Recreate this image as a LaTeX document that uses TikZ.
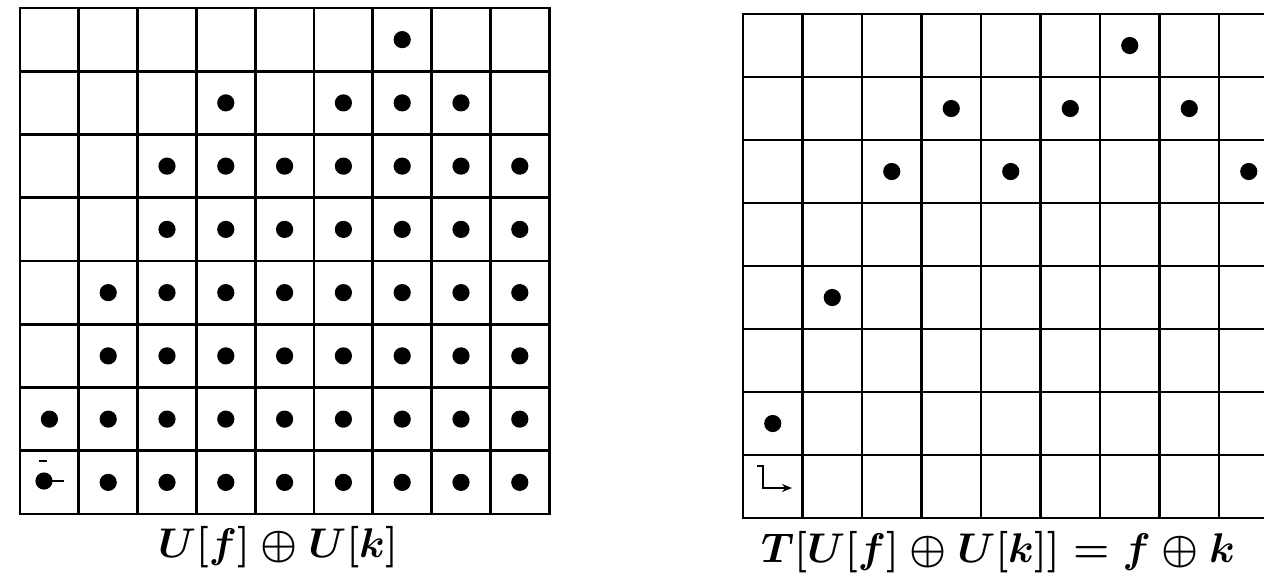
\documentclass[tikz,border=0pt]{standalone}
\usetikzlibrary{arrows.meta}

\begin{document}
\begin{tikzpicture}[
  x=0.5pt, y=-0.5pt,
  gridline/.style={line width=1.4pt, line cap=rect},
  token/.style={fill=black},
  tickline/.style={line width=1.4pt},
  caption/.style={font=\fontsize{20}{24}\selectfont\boldmath, inner sep=0pt},
]
  \useasboundingbox (0,0) rectangle (1264,580);

  % left board, U[f] + U[k]
  \foreach \i in {0,...,9}
    \draw[gridline] ({20+\i*58.8},8) -- ({20+\i*58.8},514);
  \foreach \j in {0,...,8}
    \draw[gridline] (20,{8+\j*63.25}) -- (549,{8+\j*63.25});
  \foreach \r/\cols in {1/{7}, 2/{4,6,7,8}, 3/{3,...,9}, 4/{3,...,9},
                        5/{2,...,9}, 6/{2,...,9}, 7/{1,...,9}, 8/{2,...,9}}
    \foreach \c in \cols
      \fill[token] ({20+(\c-0.5)*58.8},{8+(\r-0.5)*63.25}) circle[radius=4.3pt];
  % start cell
  \fill[token] (44,481) circle[radius=4.3pt];
  \draw[tickline] (44,481) -- (64,481);
  \draw[tickline] (39,461) -- (47,461);

  % right board, T[...] = f + k
  \foreach \i in {0,...,9}
    \draw[gridline] ({743+\i*59.5},14) -- ({743+\i*59.5},518);
  \foreach \j in {0,...,8}
    \draw[gridline] (743,{14+\j*63}) -- (1278.5,{14+\j*63});
  \foreach \r/\cols in {1/{7}, 2/{4,6,8}, 3/{3,5,9}, 5/{2}, 7/{1}}
    \foreach \c in \cols
      \fill[token] ({743+(\c-0.5)*59.5},{14+(\r-0.5)*63}) circle[radius=4.3pt];
  \draw[tickline, -{Stealth[length=5pt, width=4pt]}] (757,466) -- (763,466) -- (763,488) -- (792,488);

  \node[caption] (lcap) at (278,547) {$U[f]\oplus U[k]$};
  \node[caption] (rcap) at (998,552) {$T[U[f]\oplus U[k]]=f\oplus k$};
\end{tikzpicture}
\end{document}
